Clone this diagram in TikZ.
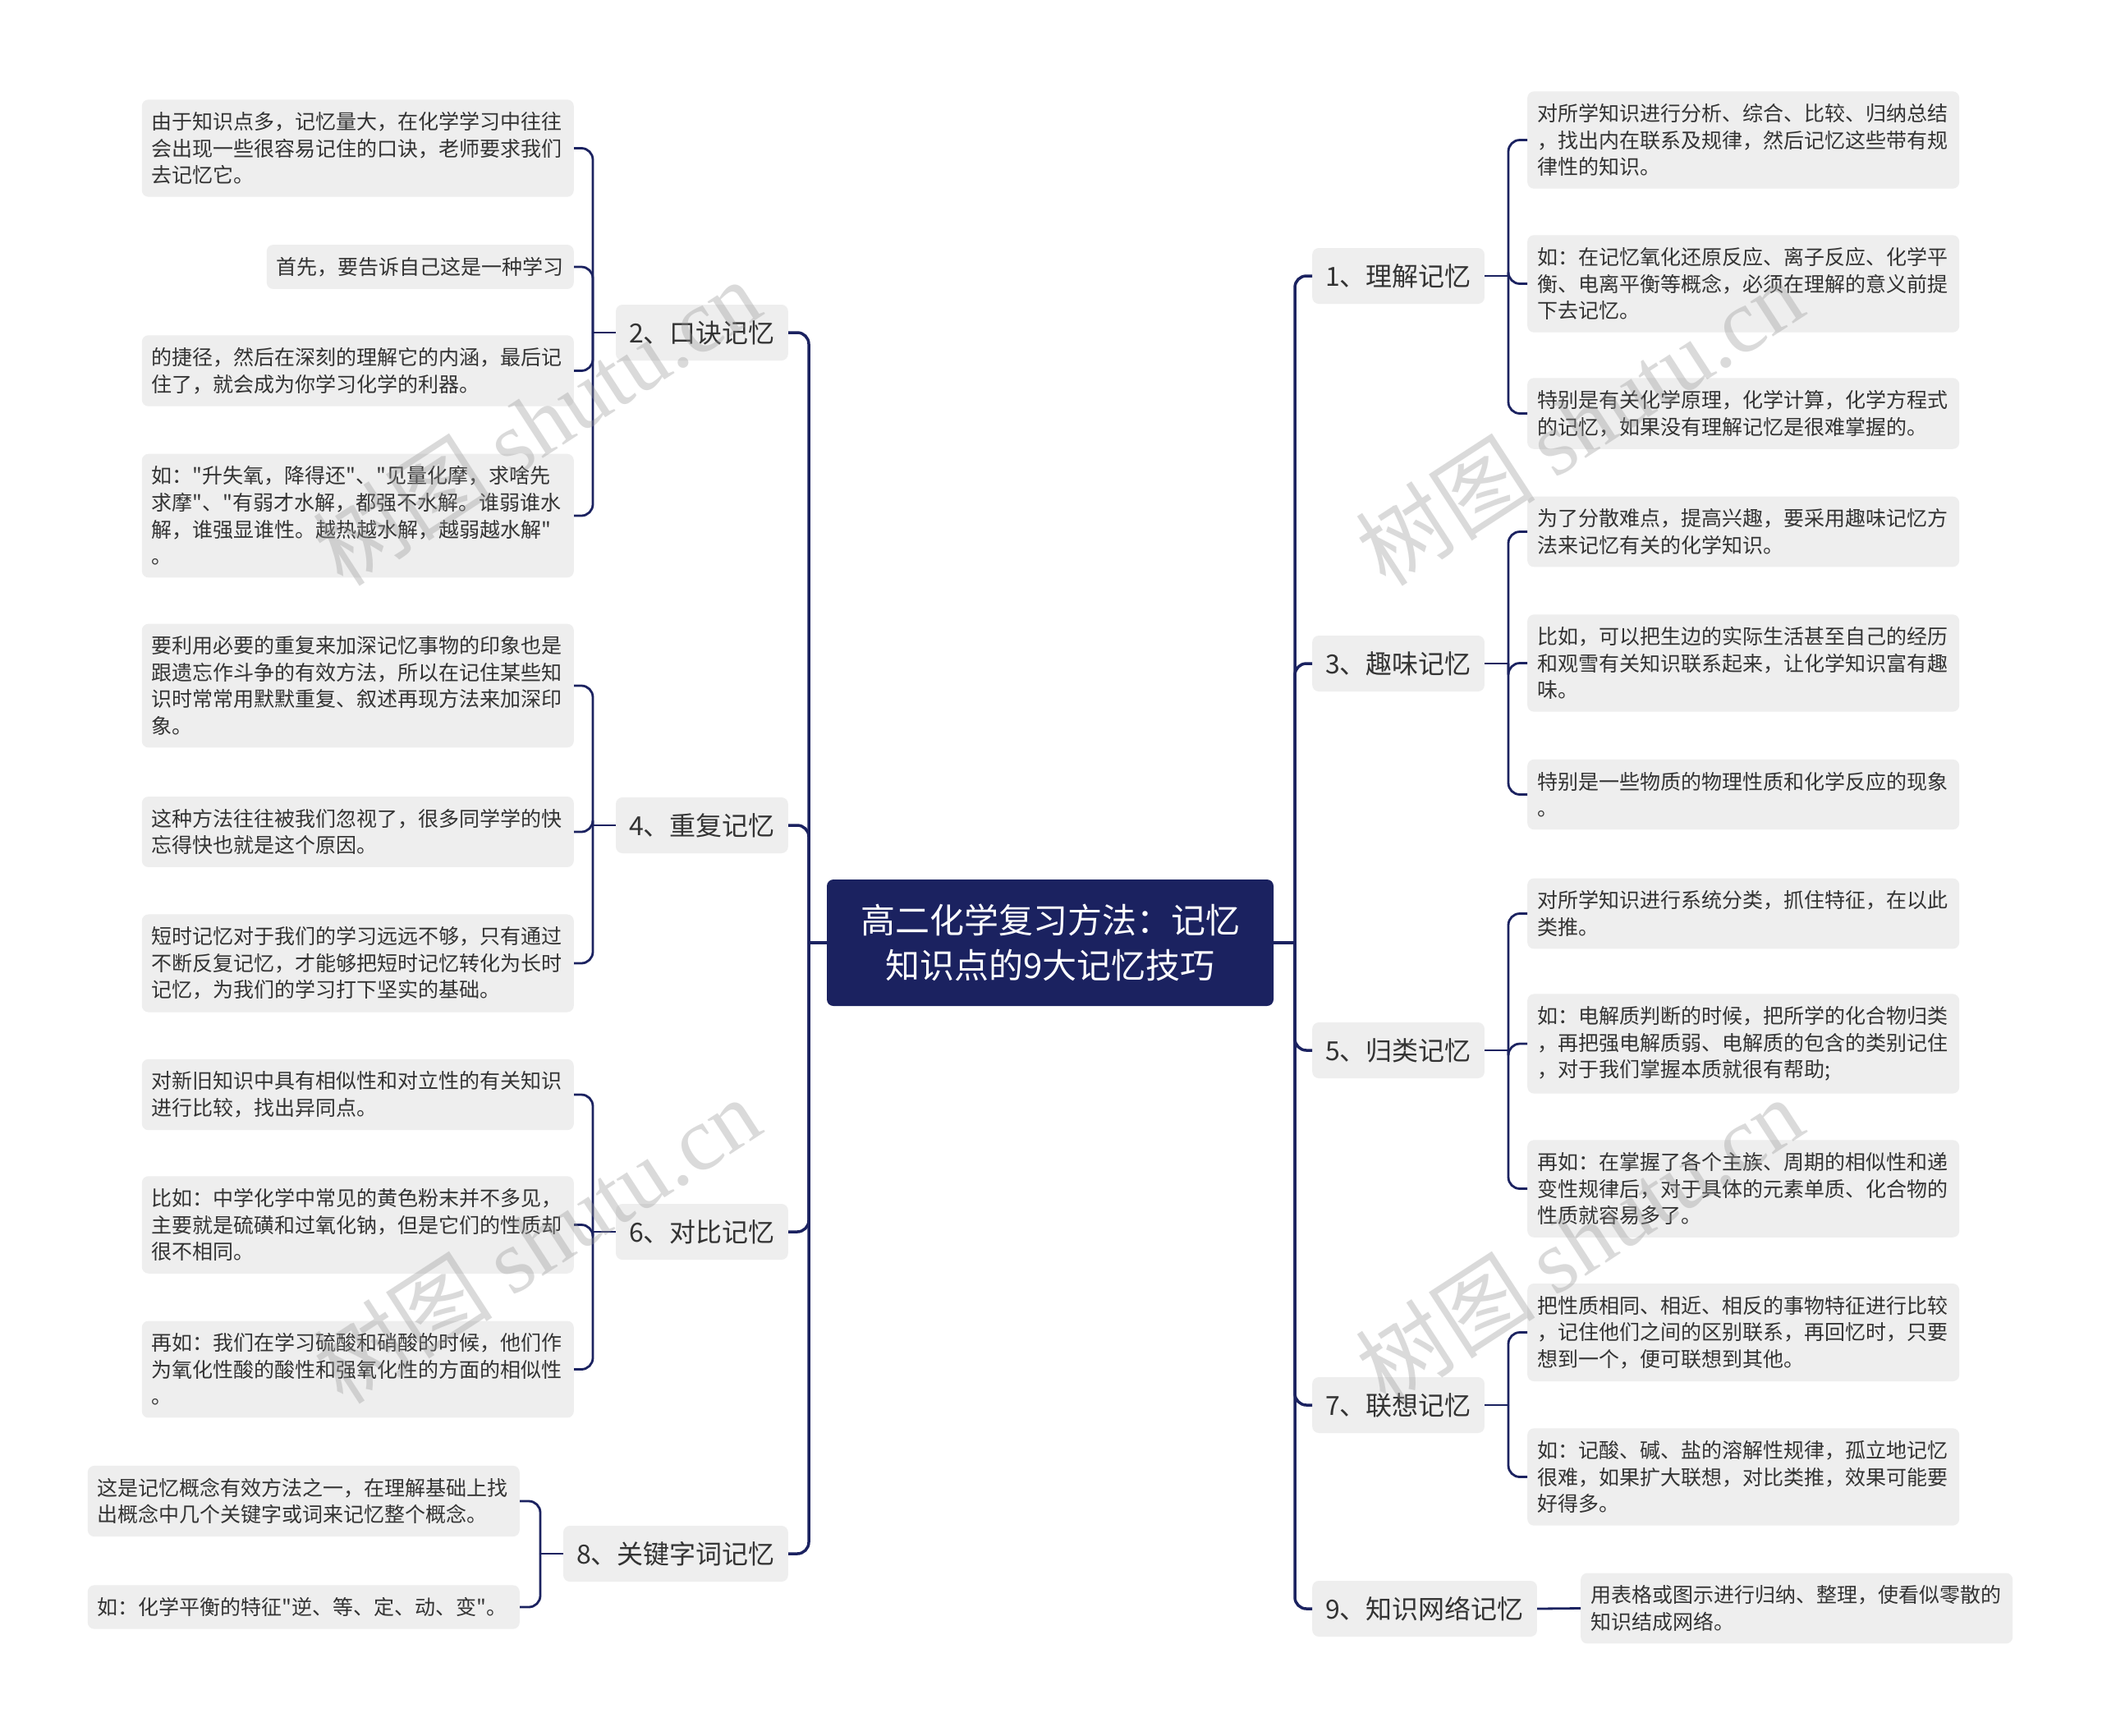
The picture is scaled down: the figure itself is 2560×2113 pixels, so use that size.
\documentclass[tikz,border=0pt]{standalone}
\usepackage{fontspec}
\newfontfamily\cjkfont{Noto Sans CJK SC}
\newfontfamily\wmfont{Liberation Serif}
\definecolor{navy}{RGB}{27,34,96}
\definecolor{leafgray}{RGB}{238,238,238}
\definecolor{textdark}{RGB}{51,51,51}
\definecolor{wmgray}{RGB}{150,150,150}
\tikzset{
  leafbase/.style={fill=leafgray, rounded corners=8pt, text=textdark,
    font=\cjkfont\fontsize{25}{32.6}\selectfont, align=left, inner xsep=12pt, inner ysep=15pt},
  leaf/.style={leafbase, text width=502pt},
  topic/.style={fill=leafgray, rounded corners=8pt, text=textdark,
    font=\cjkfont\fontsize{32}{38}\selectfont, inner xsep=16pt, minimum height=68pt},
  rootbox/.style={fill=navy, rounded corners=8pt, text=white,
    font=\cjkfont\fontsize{42}{55.5}\selectfont, align=center, minimum width=544pt, minimum height=154pt},
  trunk/.style={draw=navy, line width=3.5pt, rounded corners=14pt},
  twig/.style={draw=navy, line width=2.8pt, rounded corners=14pt},
  watermark/.style={text=wmgray, opacity=0.35, rotate=33, font=\cjkfont\fontsize{110}{110}\selectfont},
}
\begin{document}
\begin{tikzpicture}[x=1pt,y=-1pt]
\useasboundingbox (0,0) rectangle (2560,2113);
\fill[white] (0,0) rectangle (2560,2113);

% root
\node[rootbox] (root) at (1279,1148) {高二化学复习方法：记忆\\知识点的9大记忆技巧};

% level 1 left
\node[topic, anchor=east] (l2) at (960,405) {2、口诀记忆};
\node[topic, anchor=east] (l4) at (960,1005) {4、重复记忆};
\node[topic, anchor=east] (l6) at (960,1500) {6、对比记忆};
\node[topic, anchor=east] (l8) at (960,1892) {8、关键字词记忆};

% level 1 right
\node[topic, anchor=west] (r1) at (1598,336) {1、理解记忆};
\node[topic, anchor=west] (r3) at (1598,808) {3、趣味记忆};
\node[topic, anchor=west] (r5) at (1598,1279) {5、归类记忆};
\node[topic, anchor=west] (r7) at (1598,1711) {7、联想记忆};
\node[topic, anchor=west] (r9) at (1598,1959) {9、知识网络记忆};

% left leaves
\node[leaf, anchor=east] (a2a) at (699,180.5) {由于知识点多，记忆量大，在化学学习中往往\\会出现一些很容易记住的口诀，老师要求我们\\去记忆它。};
\node[leafbase, anchor=east] (a2b) at (699,325) {首先，要告诉自己这是一种学习};
\node[leaf, anchor=east] (a2c) at (699,451.5) {的捷径，然后在深刻的理解它的内涵，最后记\\住了，就会成为你学习化学的利器。};
\node[leaf, anchor=east] (a2d) at (699,628) {如："升失氧，降得还"、"见量化摩，求啥先\\求摩"、"有弱才水解，都强不水解。谁弱谁水\\解，谁强显谁性。越热越水解，越弱越水解"\\。};

\node[leaf, anchor=east] (a4a) at (699,835) {要利用必要的重复来加深记忆事物的印象也是\\跟遗忘作斗争的有效方法，所以在记住某些知\\识时常常用默默重复、叙述再现方法来加深印\\象。};
\node[leaf, anchor=east] (a4b) at (699,1013) {这种方法往往被我们忽视了，很多同学学的快\\忘得快也就是这个原因。};
\node[leaf, anchor=east] (a4c) at (699,1173) {短时记忆对于我们的学习远远不够，只有通过\\不断反复记忆，才能够把短时记忆转化为长时\\记忆，为我们的学习打下坚实的基础。};

\node[leaf, anchor=east] (a6a) at (699,1333) {对新旧知识中具有相似性和对立性的有关知识\\进行比较，找出异同点。};
\node[leaf, anchor=east] (a6b) at (699,1491.5) {比如：中学化学中常见的黄色粉末并不多见，\\主要就是硫磺和过氧化钠，但是它们的性质却\\很不相同。};
\node[leaf, anchor=east] (a6c) at (699,1667.5) {再如：我们在学习硫酸和硝酸的时候，他们作\\为氧化性酸的酸性和强氧化性的方面的相似性\\。};

\node[leaf, anchor=east] (a8a) at (633,1828) {这是记忆概念有效方法之一，在理解基础上找\\出概念中几个关键字或词来记忆整个概念。};
\node[leaf, anchor=east] (a8b) at (633,1957) {如：化学平衡的特征"逆、等、定、动、变"。};

% right leaves
\node[leaf, anchor=west] (b1a) at (1860,170.5) {对所学知识进行分析、综合、比较、归纳总结\\，找出内在联系及规律，然后记忆这些带有规\\律性的知识。};
\node[leaf, anchor=west] (b1b) at (1860,345.5) {如：在记忆氧化还原反应、离子反应、化学平\\衡、电离平衡等概念，必须在理解的意义前提\\下去记忆。};
\node[leaf, anchor=west] (b1c) at (1860,503.5) {特别是有关化学原理，化学计算，化学方程式\\的记忆，如果没有理解记忆是很难掌握的。};

\node[leaf, anchor=west] (b3a) at (1860,647.5) {为了分散难点，提高兴趣，要采用趣味记忆方\\法来记忆有关的化学知识。};
\node[leaf, anchor=west] (b3b) at (1860,807.5) {比如，可以把生边的实际生活甚至自己的经历\\和观雪有关知识联系起来，让化学知识富有趣\\味。};
\node[leaf, anchor=west] (b3c) at (1860,967.5) {特别是一些物质的物理性质和化学反应的现象\\。};

\node[leaf, anchor=west] (b5a) at (1860,1112.5) {对所学知识进行系统分类，抓住特征，在以此\\类推。};
\node[leaf, anchor=west] (b5b) at (1860,1271) {如：电解质判断的时候，把所学的化合物归类\\，再把强电解质弱、电解质的包含的类别记住\\，对于我们掌握本质就很有帮助;};
\node[leaf, anchor=west] (b5c) at (1860,1447.5) {再如：在掌握了各个主族、周期的相似性和递\\变性规律后，对于具体的元素单质、化合物的\\性质就容易多了。};

\node[leaf, anchor=west] (b7a) at (1860,1622.5) {把性质相同、相近、相反的事物特征进行比较\\，记住他们之间的区别联系，再回忆时，只要\\想到一个，便可联想到其他。};
\node[leaf, anchor=west] (b7b) at (1860,1798.5) {如：记酸、碱、盐的溶解性规律，孤立地记忆\\很难，如果扩大联想，对比类推，效果可能要\\好得多。};

\node[leaf, anchor=west] (b9a) at (1925,1958.5) {用表格或图示进行归纳、整理，使看似零散的\\知识结成网络。};

% trunk connectors
\coordinate (tl) at (985,1148);
\coordinate (tr) at (1577,1148);
\draw[trunk] (root.west) -- (tl);
\draw[trunk] (root.east) -- (tr);
\foreach \n in {l2,l4,l6,l8} \draw[trunk] (tl) |- (\n.east);
\foreach \n in {r1,r3,r5,r7,r9} \draw[trunk] (tr) |- (\n.west);

% left brackets
\coordinate (k2) at (722,405);
\draw[twig] (l2.west) -- (k2);
\foreach \n in {a2a,a2b,a2c,a2d} \draw[twig] (k2) |- (\n.east);
\coordinate (k4) at (722,1005);
\draw[twig] (l4.west) -- (k4);
\foreach \n in {a4a,a4b,a4c} \draw[twig] (k4) |- (\n.east);
\coordinate (k6) at (722,1500);
\draw[twig] (l6.west) -- (k6);
\foreach \n in {a6a,a6b,a6c} \draw[twig] (k6) |- (\n.east);
\coordinate (k8) at (658,1892);
\draw[twig] (l8.west) -- (k8);
\foreach \n in {a8a,a8b} \draw[twig] (k8) |- (\n.east);

% right brackets
\coordinate (m1) at (1837,336);
\draw[twig] (r1.east) -- (m1);
\foreach \n in {b1a,b1b,b1c} \draw[twig] (m1) |- (\n.west);
\coordinate (m3) at (1837,808);
\draw[twig] (r3.east) -- (m3);
\foreach \n in {b3a,b3b,b3c} \draw[twig] (m3) |- (\n.west);
\coordinate (m5) at (1837,1279);
\draw[twig] (r5.east) -- (m5);
\foreach \n in {b5a,b5b,b5c} \draw[twig] (m5) |- (\n.west);
\coordinate (m7) at (1837,1711);
\draw[twig] (r7.east) -- (m7);
\foreach \n in {b7a,b7b} \draw[twig] (m7) |- (\n.west);
\draw[twig] (r9.east) -- (b9a.west);

% watermarks
\node[watermark] (w1) at (653,514) {树图 {\wmfont shutu.cn}};
\node[watermark] (w2) at (653,1510) {树图 {\wmfont shutu.cn}};
\node[watermark] (w3) at (1923,514) {树图 {\wmfont shutu.cn}};
\node[watermark] (w4) at (1923,1510) {树图 {\wmfont shutu.cn}};
\end{tikzpicture}
\end{document}
